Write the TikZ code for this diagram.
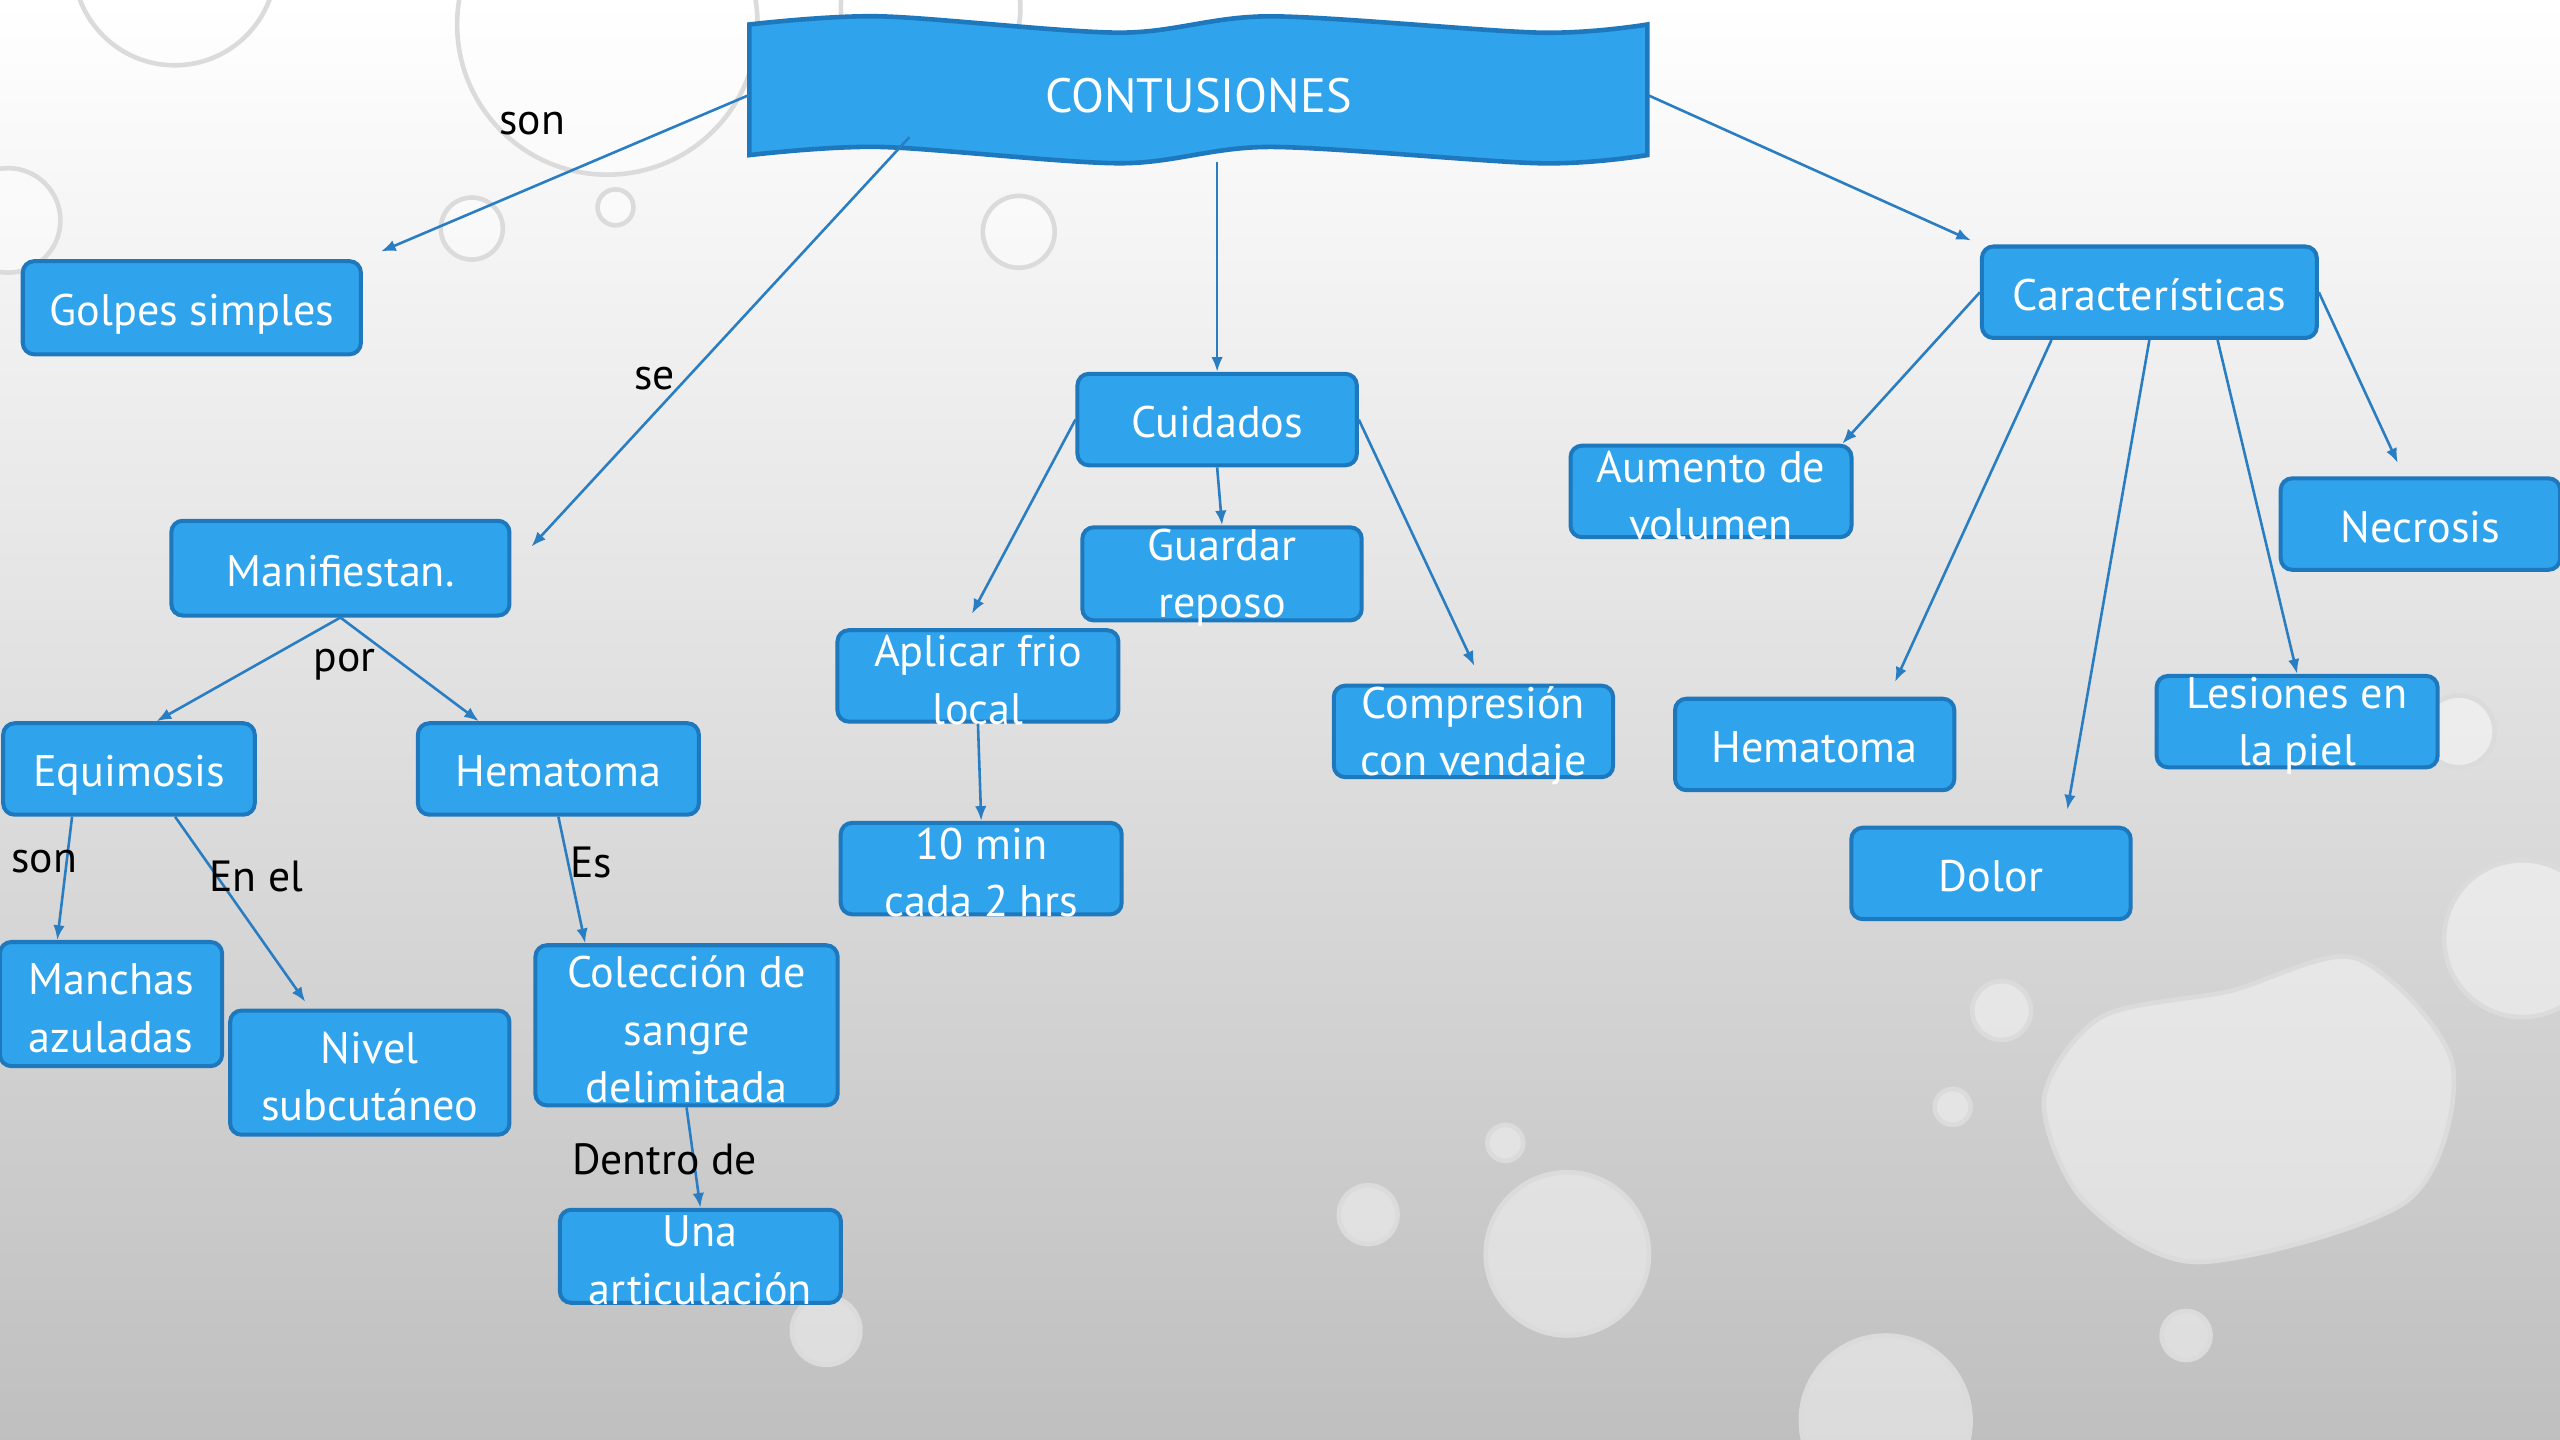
\documentclass[tikz,border=0pt]{standalone}
\usepackage{fontspec}
\setmainfont{PT Sans}
\usetikzlibrary{arrows.meta}

\definecolor{boxfill}{RGB}{47,163,235}
\definecolor{boxline}{RGB}{30,120,190}
\definecolor{linkcol}{RGB}{40,125,195}

\tikzset{
  concept/.style={draw=boxline, fill=boxfill, line width=0.7pt, rounded corners=0.07cm,
    inner sep=0pt, minimum height=0.56cm, text height=0.26cm, text depth=0.04cm,
    text=white, font=\fontsize{7.7pt}{10pt}\selectfont},
  concepttext/.style={text=white, align=center, inner sep=0pt, yshift=-0.025cm,
    font=\fontsize{7.7pt}{10pt}\selectfont},
  link/.style={draw=linkcol, line width=0.45pt, -{Latex[length=0.9mm,width=0.7mm]}},
  linklabel/.style={inner sep=0pt, font=\fontsize{7.6pt}{10pt}\selectfont},
  drop/.style={draw=gray!28, line width=0.8pt, fill=white, fill opacity=0.45},
}

\begin{document}
\begin{tikzpicture}[x=0.01cm,y=-0.01cm]
  \useasboundingbox (0,0) rectangle (1568,882);
  \clip (0,0) rectangle (1568,882);
  % background and drops
  \shade[top color=white, middle color=gray!18, bottom color=gray!50] (0,0) rectangle (1568,882);
  \foreach \x/\y/\r in {107/-22/62, 372/15/92, 570/5/55, 5/135/32, 289/140/19, 377/127/11,
      624/142/22, 1506/448/22, 1545/575/48, 1226/619/18, 1196/678/11, 922/700/11,
      838/744/18, 960/768/50, 506/815/21, 1339/818/15, 1155/870/52}
    \draw[drop] (\x,\y) circle (\r);
  \draw[drop] plot[smooth cycle] coordinates {(1252,673) (1287,623) (1366,607) (1443,587)
      (1502,651) (1475,735) (1346,773) (1276,735)};

  % title banner
  \draw[draw=boxline, fill=boxfill, line width=0.8pt]
    plot[smooth] coordinates {(459,15) (539,10) (686,20) (778,10) (943,20) (1009,15)}
    -- plot[smooth] coordinates {(1009,95) (943,100) (778,90) (686,100) (539,90) (459,95)}
    -- cycle;
  \node[concepttext, font=\fontsize{8.4pt}{10pt}\selectfont, minimum width=5.5cm, minimum height=0.8cm] (ban) at (734,56) {CONTUSIONES};
  \coordinate (ban-se) at (557,84);

  % left branch
  \node[concept, minimum width=2.07cm, minimum height=0.57cm] (golpes) at (117.5,188.5) {Golpes simples};
  \node[concept, minimum width=2.07cm, minimum height=0.58cm] (manif) at (208.5,348) {Manifiestan.};
  \node[concept, minimum width=1.54cm] (equim) at (79,471) {Equimosis};
  \node[concept, minimum width=1.72cm] (hemal) at (342,471) {Hematoma};
  \node[concept, minimum width=1.36cm, minimum height=0.76cm] (manchas) at (68,615) {};
  \node[concepttext] (manchas-t) at (manchas) {Manchas\\azuladas};
  \node[concept, minimum width=1.71cm, minimum height=0.76cm] (nivel) at (226.5,657) {};
  \node[concepttext] (nivel-t) at (nivel) {Nivel\\subcutáneo};
  \node[concept, minimum width=1.85cm, minimum height=0.98cm] (colec) at (420.5,628) {};
  \node[concepttext] (colec-t) at (colec) {Colección de\\sangre\\delimitada};
  \node[concept, minimum width=1.72cm, minimum height=0.57cm] (una) at (429,769.5) {};
  \node[concepttext] (una-t) at (una) {Una\\articulación};

  % middle branch
  \node[concept, minimum width=1.71cm] (cuid) at (745.5,257) {Cuidados};
  \node[concept, minimum width=1.71cm, minimum height=0.57cm] (guardar) at (748.5,351.5) {};
  \node[concepttext] (guardar-t) at (guardar) {Guardar\\reposo};
  \node[concept, minimum width=1.72cm] (aplicar) at (599,414) {};
  \node[concepttext] (aplicar-t) at (aplicar) {Aplicar frio\\local};
  \node[concept, minimum width=1.72cm] (diezmin) at (601,532) {};
  \node[concepttext] (diezmin-t) at (diezmin) {10 min\\cada 2 hrs};
  \node[concept, minimum width=1.71cm] (compr) at (902.5,448) {};
  \node[concepttext] (compr-t) at (compr) {Compresión\\con vendaje};

  % right branch
  \node[concept, minimum width=2.05cm] (caract) at (1316.5,179) {Características};
  \node[concept, minimum width=1.72cm] (aument) at (1048,301) {};
  \node[concepttext] (aument-t) at (aument) {Aumento de\\volumen};
  \node[concept, minimum width=1.71cm] (necro) at (1482.5,321) {Necrosis};
  \node[concept, minimum width=1.71cm] (hemar) at (1111.5,456) {Hematoma};
  \node[concept, minimum width=1.71cm] (dolor) at (1219.5,535) {Dolor};
  \node[concept, minimum width=1.72cm] (lesion) at (1407,442) {};
  \node[concepttext] (lesion-t) at (lesion) {Lesiones en\\la piel};

  % connectors
  \draw[link, shorten >=0.12cm] (ban.west) -- (golpes.north east);
  \draw[link, shorten >=0.18cm] (ban-se) -- (manif.east);
  \draw[link] (cuid.north |- ban.south) -- (cuid.north);
  \draw[link, shorten >=0.06cm] (ban.east) -- (caract.north west);
  \draw[link] (manif.south) -- (equim.60);
  \draw[link] (manif.south) -- (hemal.149);
  \draw[link] (equim.220) -- (manchas.130);
  \draw[link, shorten >=0.05cm] (equim.-46) -- (nivel.133);
  \draw[link] (hemal.south) -- (colec.141.5);
  \draw[link] (colec.south) -- (una.north);
  \draw[link, shorten >=0.1cm] (cuid.west) -- (aplicar.106);
  \draw[link] (cuid.south) -- (guardar.north);
  \draw[link, shorten >=0.12cm] (cuid.east) -- (compr.79);
  \draw[link] (aplicar.south) -- (diezmin.north);
  \draw[link] (caract.west) -- (aument.20);
  \draw[link, shorten >=0.1cm] (caract.206.8) -- (hemar.33);
  \draw[link, shorten >=0.1cm] (caract.south) -- (dolor.33);
  \draw[link] (caract.-35) -- (lesion.north);
  \draw[link, shorten >=0.09cm] (caract.east) -- (necro.109);

  % link words
  \node[linklabel] (l-son) at (326,76) {son};
  \node[linklabel] (l-se) at (401,232) {se};
  \node[linklabel] (l-por) at (211,407) {por};
  \node[linklabel] (l-son2) at (27,528) {son};
  \node[linklabel] (l-enel) at (157,537) {En el};
  \node[linklabel] (l-es) at (362,528) {Es};
  \node[linklabel] (l-dentro) at (407,710) {Dentro de};
\end{tikzpicture}
\end{document}
